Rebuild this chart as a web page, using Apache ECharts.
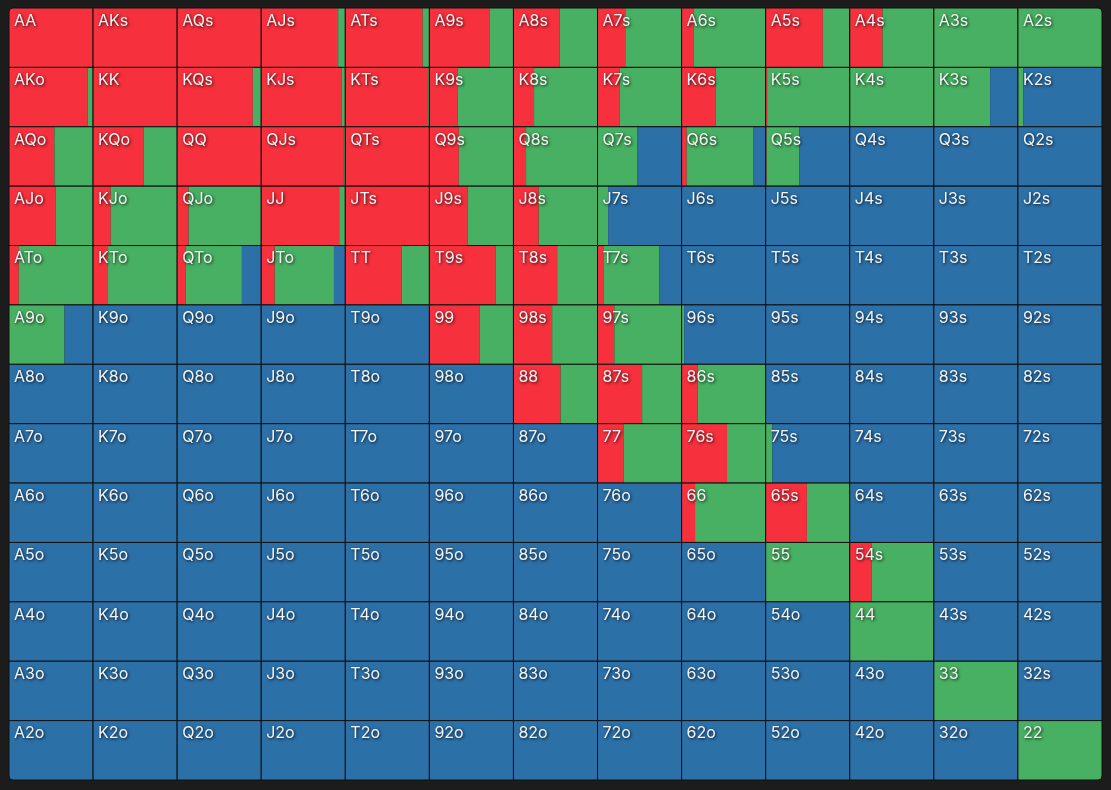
<!DOCTYPE html>
<html>
<head>
<meta charset="utf-8">
<style>
html,body{margin:0;padding:0;background:#1c1c1c;}
#chart{width:1111px;height:790px;}
</style>
<script src="https://cdn.jsdelivr.net/npm/echarts@6/dist/echarts.min.js"></script>
</head>
<body>
<div id="chart"></div>
<script>
const ranks = ['A','K','Q','J','T','9','8','7','6','5','4','3','2'];

// fraction of each hand that raises (rows = first rank, cols = second rank)
const raise = [
  [1,    1,    1,    0.915,0.92, 0.72, 0.55, 0.33, 0.145,0.68, 0.39, 0,    0],
  [0.935,1,    0.90, 0.955,0.985,0.335,0.245,0.265,0.405,0.017,0,    0,    0],
  [0.54, 0.60, 1,    0.98, 1,    0.35, 0.15, 0,    0.06, 0.01, 0,    0,    0],
  [0.555,0.21, 0.136,0.927,1,    0.455,0.30, 0,    0,    0,    0,    0,    0],
  [0.116,0.178,0.10, 0.16, 0.67, 0.79, 0.52, 0.076,0,    0,    0,    0,    0],
  [0,    0,    0,    0,    0,    0.60, 0.46, 0.20, 0,    0,    0,    0,    0],
  [0,    0,    0,    0,    0,    0,    0.56, 0.53, 0.19, 0,    0,    0,    0],
  [0,    0,    0,    0,    0,    0,    0,    0.31, 0.54, 0,    0,    0,    0],
  [0,    0,    0,    0,    0,    0,    0,    0,    0.16, 0.49, 0,    0,    0],
  [0,    0,    0,    0,    0,    0,    0,    0,    0,    0,    0.26, 0,    0],
  [0,    0,    0,    0,    0,    0,    0,    0,    0,    0,    0,    0,    0],
  [0,    0,    0,    0,    0,    0,    0,    0,    0,    0,    0,    0,    0],
  [0,    0,    0,    0,    0,    0,    0,    0,    0,    0,    0,    0,    0]
];

// fraction of each hand that calls
const call = [
  [0,    0,    0,    0.085,0.08, 0.28, 0.45, 0.67, 0.855,0.32, 0.61, 1,    1],
  [0.065,0,    0.10, 0.045,0.015,0.665,0.755,0.735,0.595,0.983,1,    0.67, 0.064],
  [0.46, 0.40, 0,    0.02, 0,    0.65, 0.85, 0.475,0.79, 0.39, 0,    0,    0],
  [0.445,0.79, 0.864,0.073,0,    0.545,0.70, 0.126,0,    0,    0,    0,    0],
  [0.884,0.822,0.67, 0.705,0.33, 0.21, 0.48, 0.66, 0,    0,    0,    0,    0],
  [0.66, 0,    0,    0,    0,    0.40, 0.54, 0.80, 0.03, 0,    0,    0,    0],
  [0,    0,    0,    0,    0,    0,    0.44, 0.47, 0.81, 0,    0,    0,    0],
  [0,    0,    0,    0,    0,    0,    0,    0.69, 0.46, 0.08, 0,    0,    0],
  [0,    0,    0,    0,    0,    0,    0,    0,    0.84, 0.51, 0,    0,    0],
  [0,    0,    0,    0,    0,    0,    0,    0,    0,    1,    0.74, 0,    0],
  [0,    0,    0,    0,    0,    0,    0,    0,    0,    0,    1,    0,    0],
  [0,    0,    0,    0,    0,    0,    0,    0,    0,    0,    0,    1,    0],
  [0,    0,    0,    0,    0,    0,    0,    0,    0,    0,    0,    0,    1]
];

const COLORS = { raise: '#F6303D', call: '#48B062', fold: '#2C70A8' };

function handLabel(r, c) {
  if (r === c) return ranks[r] + ranks[c];
  if (r < c) return ranks[r] + ranks[c] + 's';
  return ranks[c] + ranks[r] + 'o';
}

const data = [];
const labels = [];
for (let r = 0; r < 13; r++) {
  for (let c = 0; c < 13; c++) {
    data.push([c, r, raise[r][c], call[r][c]]);
    labels.push(handLabel(r, c));
  }
}

const R = 4;
function renderItem(params, api) {
  const c = api.value(0), r = api.value(1);
  const pt = api.coord([c, r]);
  const sz = api.size([1, 1]);
  const w = sz[0], h = sz[1];
  const x0 = pt[0] - w / 2, y0 = pt[1] - h / 2;
  const rw = w * api.value(2);
  const gw = w * api.value(3);
  const bw = Math.max(0, w - rw - gw);
  // corner rounding for the outer corners of the board
  const tl = (r === 0 && c === 0) ? R : 0;
  const tr = (r === 0 && c === 12) ? R : 0;
  const bl = (r === 12 && c === 0) ? R : 0;
  const br = (r === 12 && c === 12) ? R : 0;
  const segs = [];
  if (rw > 0) segs.push({ x: x0, w: rw, fill: COLORS.raise });
  if (gw > 0) segs.push({ x: x0 + rw, w: gw, fill: COLORS.call });
  if (bw > 0.01) segs.push({ x: x0 + rw + gw, w: bw, fill: COLORS.fold });
  const children = [];
  segs.forEach((s, i) => {
    const first = i === 0, last = i === segs.length - 1;
    children.push({
      type: 'rect',
      shape: { x: s.x, y: y0, width: s.w, height: h,
        r: [first ? tl : 0, last ? tr : 0, last ? br : 0, first ? bl : 0] },
      style: { fill: s.fill }
    });
  });
  children.push({ type: 'rect', shape: { x: x0, y: y0, width: w, height: h, r: [tl, tr, br, bl] },
    style: { fill: 'none', stroke: '#111111', lineWidth: 1 } });
  children.push({
    type: 'text',
    style: {
      x: x0 + 5, y: y0 + 5,
      text: labels[params.dataIndex],
      fill: '#f4f4f4',
      font: '16px Inter, "Noto Sans", sans-serif',
      textAlign: 'left', textVerticalAlign: 'top',
      textShadowColor: 'rgba(0,0,0,0.8)', textShadowBlur: 3,
      textShadowOffsetX: 1, textShadowOffsetY: 1
    }
  });
  return { type: 'group', children };
}

const chart = echarts.init(document.getElementById('chart'), null, { renderer: 'canvas' });
chart.setOption({
  backgroundColor: '#1c1c1c',
  animation: false,
  grid: { left: 9, top: 8, right: 9, bottom: 10 },
  xAxis: { type: 'category', data: ranks, show: false },
  yAxis: { type: 'category', data: ranks, inverse: true, show: false },
  series: [{
    type: 'custom',
    renderItem: renderItem,
    data: data,
    encode: { x: 0, y: 1 },
    clip: false
  }]
});
</script>
</body>
</html>
